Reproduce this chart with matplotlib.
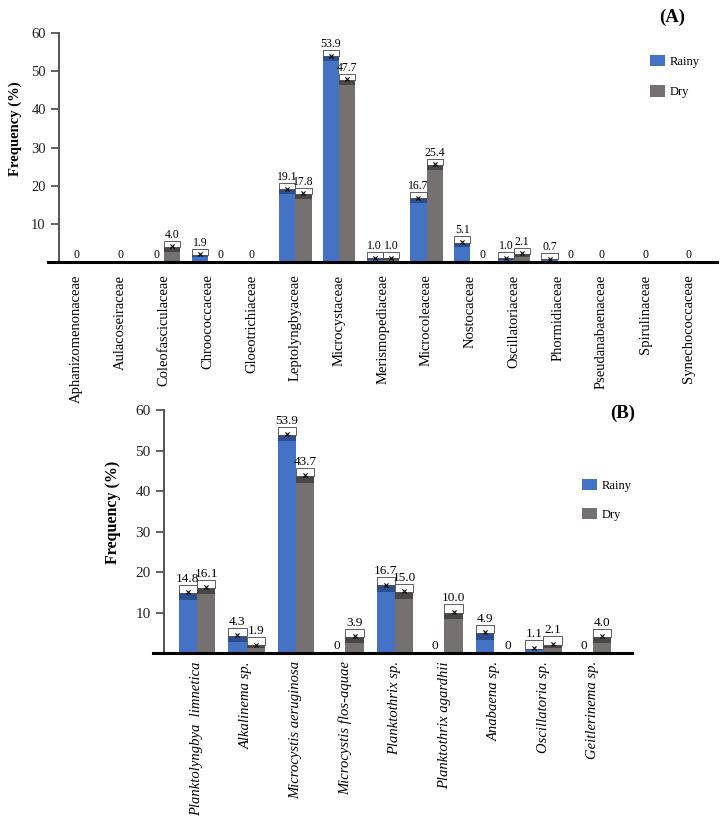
import matplotlib.pyplot as plt
import numpy as np
from matplotlib.patches import Patch

plt.rcParams.update({'font.family': 'Liberation Serif'})

# Panel A - families
families = ['Aphanizomenonaceae', 'Aulacoseiraceae', 'Coleofasciculaceae', 'Chroococcaceae',
            'Gloeotrichiaceae', 'Leptolyngbyaceae', 'Microcystaceae', 'Merismopediaceae',
            'Microcoleaceae', 'Nostocaceae', 'Oscillatoriaceae', 'Phormidiaceae',
            'Pseudanabaenaceae', 'Spirulinaceae', 'Synechococcaceae']
fam_rainy = [0, 0, 0, 1.9, 0, 19.1, 53.9, 1.0, 16.7, 5.1, 1.0, 0.7, 0, 0, 0]
fam_dry = [0, 0, 4.0, 0, 0, 17.8, 47.7, 1.0, 25.4, 0, 2.1, 0, 0, 0, 0]

# Panel B - species
species = ['Planktolyngbya  limnetica', 'Alkalinema sp.', 'Microcystis aeruginosa',
           'Microcystis flos-aquae', 'Planktothrix sp.', 'Planktothrix agardhii',
           'Anabaena sp.', 'Oscillatoria sp.', 'Geitlerinema sp.']
sp_rainy = [14.8, 4.3, 53.9, 0, 16.7, 0, 4.9, 1.1, 0]
sp_dry = [16.1, 1.9, 43.7, 3.9, 15.0, 10.0, 0, 2.1, 4.0]

BLUE, BLUE_D = '#4472c4', '#2c4d8e'
GRAY, GRAY_D = '#767171', '#4a4646'


def draw_panel(ax, cats, rainy, dry, width, box_h, lab_fs, xlim, spine_pos,
               tick_fs, cat_fs, cat_style, cat_pad):
    x = np.arange(len(cats))
    for vals, off, col, dcol in [(rainy, -width / 2, BLUE, BLUE_D),
                                 (dry, width / 2, GRAY, GRAY_D)]:
        vals = np.asarray(vals, float)
        pos = x + off
        nz = vals > 0
        ax.bar(pos[nz], vals[nz], width, color=col, edgecolor='none', zorder=2)
        band = np.minimum(box_h * 0.8, vals[nz] * 0.35)
        ax.bar(pos[nz], band, width, bottom=vals[nz] - band, color=dcol, zorder=3)
        ax.bar(pos[nz], box_h, width, bottom=vals[nz], color='white',
               edgecolor='#444444', lw=0.6, zorder=3)
        ax.scatter(pos[nz], vals[nz] + box_h * 0.1, marker='x', s=9, color='black',
                   lw=0.8, zorder=4)
        for p, v in zip(pos[nz], vals[nz]):
            ax.text(p, v + box_h, f'{v:.1f}', ha='center', va='bottom',
                    fontsize=lab_fs, zorder=5)
    # zero labels
    for i, (r, d) in enumerate(zip(rainy, dry)):
        if r == 0 and d == 0:
            ax.text(i, 0.3, '0', ha='center', va='bottom', fontsize=lab_fs)
        elif r == 0:
            ax.text(i - width / 2, 0.3, '0', ha='center', va='bottom', fontsize=lab_fs)
        elif d == 0:
            ax.text(i + width / 2 + 0.1, 0.3, '0', ha='center', va='bottom', fontsize=lab_fs)

    ax.set_xlim(*xlim)
    ax.set_ylim(0, 60)
    ax.spines['top'].set_visible(False)
    ax.spines['right'].set_visible(False)
    ax.spines['bottom'].set_linewidth(2.2)
    ax.spines['bottom'].set_color('black')
    ax.spines['left'].set_position(('axes', spine_pos))
    ax.spines['left'].set_color('#555555')
    ax.spines['left'].set_linewidth(1.4)
    ax.set_yticks([10, 20, 30, 40, 50, 60])
    ax.tick_params(axis='y', direction='out', length=6, width=1.3, color='#555555',
                   labelsize=tick_fs, labelcolor='#222222')
    ax.set_xticks(x)
    ax.set_xticklabels(cats, rotation=90, fontsize=cat_fs, fontstyle=cat_style)
    ax.tick_params(axis='x', length=0, pad=cat_pad)


fig = plt.figure(figsize=(7.24, 8.26), dpi=100)

axA = fig.add_axes([0.0663, 0.6828, 0.9237, 0.2772])
draw_panel(axA, families, fam_rainy, fam_dry, width=0.37, box_h=1.6, lab_fs=8.5,
           xlim=(-0.66, 14.64), spine_pos=0.0164, tick_fs=10.5, cat_fs=10.5,
           cat_style='normal', cat_pad=9)

axB = fig.add_axes([0.2113, 0.2094, 0.6616, 0.2942])
draw_panel(axB, species, sp_rainy, sp_dry, width=0.37, box_h=2.0, lab_fs=9.5,
           xlim=(-0.89, 8.79), spine_pos=0.023, tick_fs=11, cat_fs=10.5,
           cat_style='italic', cat_pad=6)

# y labels
fig.text(15 / 724, 1 - 129 / 826, 'Frequency (%)', rotation=90, ha='center', va='center',
         fontsize=10.5, fontweight='bold')
fig.text(113 / 724, 1 - 512 / 826, 'Frequency (%)', rotation=90, ha='center', va='center',
         fontsize=11.5, fontweight='bold')

# panel tags
fig.text(672 / 724, 1 - 17 / 826, '(A)', ha='center', va='center', fontsize=13.5,
         fontweight='bold')
fig.text(623 / 724, 1 - 413 / 826, '(B)', ha='center', va='center', fontsize=13.5,
         fontweight='bold')

handles = [Patch(facecolor=BLUE, label='Rainy'), Patch(facecolor=GRAY, label='Dry')]
fig.legend(handles=handles, loc='upper left', bbox_to_anchor=(650 / 724, 1 - 55 / 826),
           frameon=False, fontsize=9, handlelength=1.2, handleheight=1.0,
           handletextpad=0.4, labelspacing=1.4, borderpad=0, borderaxespad=0)
fig.legend(handles=handles, loc='upper left', bbox_to_anchor=(582 / 724, 1 - 479 / 826),
           frameon=False, fontsize=9, handlelength=1.2, handleheight=1.0,
           handletextpad=0.4, labelspacing=1.3, borderpad=0, borderaxespad=0)

fig.savefig('out.png', dpi=100)
